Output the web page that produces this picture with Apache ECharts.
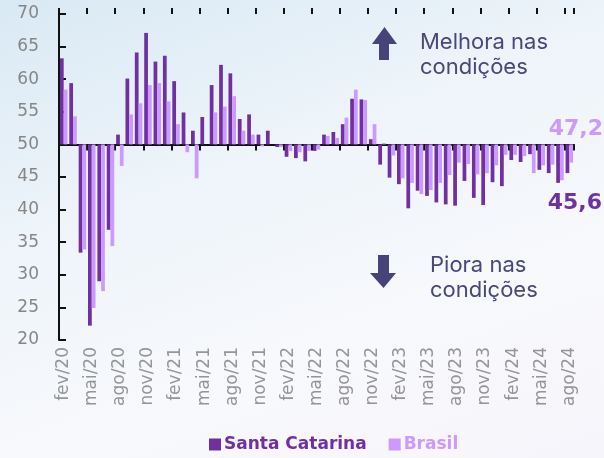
<!DOCTYPE html>
<html>
<head>
<meta charset="utf-8">
<script src="https://cdn.jsdelivr.net/npm/echarts@6/dist/echarts.min.js"></script>
<style>
html,body{margin:0;padding:0;}
#chart{width:604px;height:458px;background:linear-gradient(160deg,#d9e9f4 0%,#edf4fa 35%,#f8f9fc 70%,#f6f5fb 100%);}
</style>
</head>
<body>
<div id="chart"></div>
<script>
const categories = ["fev/20","mar/20","abr/20","mai/20","jun/20","jul/20","ago/20","set/20","out/20","nov/20","dez/20","jan/21",
"fev/21","mar/21","abr/21","mai/21","jun/21","jul/21","ago/21","set/21","out/21","nov/21","dez/21","jan/22",
"fev/22","mar/22","abr/22","mai/22","jun/22","jul/22","ago/22","set/22","out/22","nov/22","dez/22","jan/23",
"fev/23","mar/23","abr/23","mai/23","jun/23","jul/23","ago/23","set/23","out/23","nov/23","dez/23","jan/24",
"fev/24","mar/24","abr/24","mai/24","jun/24","jul/24","ago/24"];
const santaCatarina = [63.2,59.4,33.4,22.2,29.0,36.9,51.5,60.1,64.1,67.1,62.7,63.6,
59.7,54.9,52.1,54.2,59.1,62.2,60.9,53.9,54.6,51.5,52.1,49.6,
48.1,47.9,47.4,49.0,51.5,51.9,53.1,57.0,56.9,50.8,46.9,44.9,
43.9,40.2,42.9,42.1,41.1,40.8,40.6,44.4,41.8,40.7,44.2,43.6,
47.6,47.3,48.5,46.1,45.6,44.1,45.6];
const brasil = [58.4,54.3,33.9,24.9,27.5,34.4,46.7,54.6,56.3,59.1,59.4,56.6,
53.1,48.8,44.8,50.0,54.9,55.8,57.4,52.1,51.5,49.7,50.0,49.6,
49.0,48.8,49.0,49.2,51.3,51.0,54.1,58.4,56.8,53.1,50.2,48.3,
44.8,44.1,42.4,43.0,44.1,45.3,47.2,47.0,45.4,45.6,46.8,48.4,
48.4,48.2,45.6,46.8,46.9,44.5,47.2];
const baseline = 50;
const yMin = 20, yMax = 70, yStep = 5;
const names = ["Santa Catarina","Brasil"];
const colors = ["#7030a0","#cc99ff"];

const fmt = v => v.toFixed(1).replace('.', ',');
const chart = echarts.init(document.getElementById('chart'));
const axisFont = '"DejaVu Sans", sans-serif';
const boldFont = '"DejaVu Sans", sans-serif';
const textFont = 'Inter, "Open Sans", sans-serif';
chart.setOption({
  backgroundColor: 'transparent',
  animation: false,
  grid: {left: 59, right: 30, top: 14, bottom: 118, containLabel: false},
  legend: {
    left: 204, top: 431, itemWidth: 12, itemHeight: 12, itemGap: 22, icon: 'rect',
    textStyle: {fontFamily: boldFont, fontWeight: 'bold', fontSize: 17, padding: [0,0,0,-2]},
    data: [
      {name: names[0], textStyle: {color: colors[0]}},
      {name: names[1], textStyle: {color: colors[1]}}
    ]
  },
  xAxis: [
    {type: 'category', data: categories, position: 'bottom',
     axisLine: {show: false, onZero: false}, axisTick: {show: false},
     axisLabel: {rotate: 90, interval: 2, color: '#959595', fontSize: 17, fontFamily: axisFont, margin: 7}},
    {type: 'category', data: categories, position: 'bottom',
     axisLine: {show: true, onZero: true, lineStyle: {color: '#111', width: 2}},
     axisTick: {show: true, interval: 2, length: 6, lineStyle: {color: '#111', width: 2}},
     axisLabel: {show: false}},
    {type: 'category', data: categories, position: 'top',
     axisLine: {show: false, onZero: true},
     axisTick: {show: true, interval: 2, length: 6, lineStyle: {color: '#111', width: 2}},
     axisLabel: {show: false}}
  ],
  yAxis: {
    type: 'value', min: yMin - baseline, max: yMax - baseline, interval: yStep,
    axisLine: {show: true, lineStyle: {color: '#111', width: 2}},
    axisTick: {show: true, inside: true, length: 7, lineStyle: {color: '#111', width: 2}},
    splitLine: {show: false},
    axisLabel: {color: '#868686', fontSize: 17, fontFamily: axisFont, margin: 20,
      formatter: v => String(v + baseline)}
  },
  series: [
    {name: names[0], type: 'bar', xAxisIndex: 0, barGap: '0%', barCategoryGap: '20%',
     itemStyle: {color: colors[0]},
     data: santaCatarina.map(v => +(v - baseline).toFixed(2))},
    {name: names[1], type: 'bar', xAxisIndex: 0, barGap: '0%', barCategoryGap: '20%',
     itemStyle: {color: colors[1]},
     data: brasil.map(v => +(v - baseline).toFixed(2))}
  ],
  graphic: [
    {type: 'polygon', shape: {points: [[372,44],[384.5,27],[397,44],[389,44],[389,60],[379,60],[379,44]]}, style: {fill: '#46427a'}},
    {type: 'polygon', shape: {points: [[378,255],[389,255],[389,273],[396,273],[383.5,288],[370,273],[378,273]]}, style: {fill: '#46427a'}},
    {type: 'text', left: 420, top: 30, style: {text: 'Melhora nas\ncondições', fill: '#4a4779', fontSize: 22, fontFamily: textFont, lineHeight: 25}},
    {type: 'text', left: 430, top: 253, style: {text: 'Piora nas\ncondições', fill: '#4a4779', fontSize: 22, fontFamily: textFont, lineHeight: 25}},
    {type: 'text', right: 1, top: 118, style: {text: fmt(brasil[brasil.length-1]), fill: colors[1], fontSize: 22, fontWeight: 'bold', fontFamily: boldFont}},
    {type: 'text', right: 2, top: 192, style: {text: fmt(santaCatarina[santaCatarina.length-1]), fill: colors[0], fontSize: 22, fontWeight: 'bold', fontFamily: boldFont}}
  ]
});
</script>
</body>
</html>
